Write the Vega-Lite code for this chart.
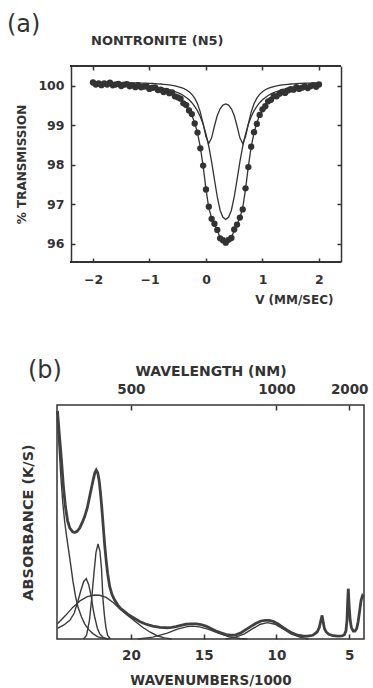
{
  "$schema": "https://vega.github.io/schema/vega-lite/v6.json",
  "background": "white",
  "padding": {"left": 6, "top": 13, "right": 0, "bottom": 0},
  "title": {"text": "(a)", "anchor": "start", "frame": "bounds", "dx": -9, "fontSize": 24, "fontWeight": "normal", "font": "DejaVu Sans", "color": "#333", "offset": -2},
  "config": {
    "view": {"stroke": "#333", "strokeWidth": 1.5},
    "axis": {"domain": false, "grid": false, "labelFont": "DejaVu Sans", "labelFontWeight": "bold", "titleFont": "DejaVu Sans", "titleFontWeight": "bold", "labelColor": "#333", "titleColor": "#333", "tickColor": "#333", "tickWidth": 1.5, "domainColor": "#333", "domainWidth": 1.5, "labelFlush": false, "labelOverlap": false}
  },
  "datasets": {
    "moss": [
      {"v": -2.00, "d": 100.082, "f": 100.052, "o": 100.088, "i": 100.063},
      {"v": -1.95, "d": 100.029, "f": 100.049, "o": 100.088, "i": 100.062},
      {"v": -1.90, "d": 100.057, "f": 100.047, "o": 100.087, "i": 100.060},
      {"v": -1.85, "d": 100.015, "f": 100.045, "o": 100.086, "i": 100.058},
      {"v": -1.80, "d": 100.062, "f": 100.042, "o": 100.086, "i": 100.056},
      {"v": -1.75, "d": 100.029, "f": 100.039, "o": 100.085, "i": 100.054},
      {"v": -1.70, "d": 100.076, "f": 100.036, "o": 100.084, "i": 100.052},
      {"v": -1.65, "d": 100.013, "f": 100.033, "o": 100.083, "i": 100.049},
      {"v": -1.60, "d": 100.029, "f": 100.029, "o": 100.083, "i": 100.047},
      {"v": -1.55, "d": 100.046, "f": 100.026, "o": 100.082, "i": 100.044},
      {"v": -1.50, "d": 99.991, "f": 100.021, "o": 100.081, "i": 100.041},
      {"v": -1.45, "d": 100.027, "f": 100.017, "o": 100.079, "i": 100.038},
      {"v": -1.40, "d": 100.042, "f": 100.012, "o": 100.078, "i": 100.034},
      {"v": -1.35, "d": 99.987, "f": 100.007, "o": 100.077, "i": 100.030},
      {"v": -1.30, "d": 100.011, "f": 100.001, "o": 100.075, "i": 100.026},
      {"v": -1.25, "d": 99.964, "f": 99.994, "o": 100.073, "i": 100.021},
      {"v": -1.20, "d": 100.017, "f": 99.987, "o": 100.071, "i": 100.016},
      {"v": -1.15, "d": 99.960, "f": 99.980, "o": 100.069, "i": 100.010},
      {"v": -1.10, "d": 99.981, "f": 99.971, "o": 100.067, "i": 100.004},
      {"v": -1.05, "d": 99.981, "f": 99.961, "o": 100.064, "i": 99.997},
      {"v": -1.00, "d": 99.921, "f": 99.951, "o": 100.061, "i": 99.990},
      {"v": -0.95, "d": 99.949, "f": 99.939, "o": 100.058, "i": 99.981},
      {"v": -0.90, "d": 99.955, "f": 99.925, "o": 100.054, "i": 99.972},
      {"v": -0.85, "d": 99.890, "f": 99.910, "o": 100.049, "i": 99.961},
      {"v": -0.80, "d": 99.902, "f": 99.892, "o": 100.044, "i": 99.949},
      {"v": -0.75, "d": 99.842, "f": 99.872, "o": 100.037, "i": 99.935},
      {"v": -0.70, "d": 99.869, "f": 99.849, "o": 100.030, "i": 99.919},
      {"v": -0.65, "d": 99.812, "f": 99.822, "o": 100.021, "i": 99.901},
      {"v": -0.60, "d": 99.830, "f": 99.790, "o": 100.010, "i": 99.880},
      {"v": -0.55, "d": 99.732, "f": 99.752, "o": 99.997, "i": 99.855},
      {"v": -0.50, "d": 99.707, "f": 99.707, "o": 99.981, "i": 99.827},
      {"v": -0.45, "d": 99.673, "f": 99.653, "o": 99.960, "i": 99.793},
      {"v": -0.40, "d": 99.555, "f": 99.585, "o": 99.933, "i": 99.752},
      {"v": -0.35, "d": 99.511, "f": 99.501, "o": 99.898, "i": 99.703},
      {"v": -0.30, "d": 99.373, "f": 99.393, "o": 99.850, "i": 99.644},
      {"v": -0.25, "d": 99.283, "f": 99.253, "o": 99.782, "i": 99.571},
      {"v": -0.20, "d": 99.045, "f": 99.065, "o": 99.686, "i": 99.479},
      {"v": -0.15, "d": 98.816, "f": 98.806, "o": 99.543, "i": 99.363},
      {"v": -0.10, "d": 98.417, "f": 98.447, "o": 99.332, "i": 99.216},
      {"v": -0.05, "d": 97.981, "f": 97.961, "o": 99.036, "i": 99.025},
      {"v": 0.00, "d": 97.375, "f": 97.385, "o": 98.707, "i": 98.778},
      {"v": 0.05, "d": 96.941, "f": 96.901, "o": 98.538, "i": 98.463},
      {"v": 0.10, "d": 96.633, "f": 96.653, "o": 98.681, "i": 98.072},
      {"v": 0.15, "d": 96.508, "f": 96.508, "o": 98.982, "i": 97.626},
      {"v": 0.20, "d": 96.352, "f": 96.332, "o": 99.246, "i": 97.187},
      {"v": 0.25, "d": 96.138, "f": 96.168, "o": 99.418, "i": 96.850},
      {"v": 0.30, "d": 96.090, "f": 96.080, "o": 99.511, "i": 96.670},
      {"v": 0.35, "d": 96.029, "f": 96.059, "o": 99.539, "i": 96.619},
      {"v": 0.40, "d": 96.100, "f": 96.080, "o": 99.511, "i": 96.670},
      {"v": 0.45, "d": 96.148, "f": 96.168, "o": 99.418, "i": 96.850},
      {"v": 0.50, "d": 96.362, "f": 96.332, "o": 99.246, "i": 97.187},
      {"v": 0.55, "d": 96.488, "f": 96.508, "o": 98.982, "i": 97.626},
      {"v": 0.60, "d": 96.663, "f": 96.653, "o": 98.681, "i": 98.072},
      {"v": 0.65, "d": 96.871, "f": 96.901, "o": 98.538, "i": 98.463},
      {"v": 0.70, "d": 97.405, "f": 97.385, "o": 98.707, "i": 98.778},
      {"v": 0.75, "d": 97.941, "f": 97.961, "o": 99.036, "i": 99.025},
      {"v": 0.80, "d": 98.457, "f": 98.447, "o": 99.332, "i": 99.216},
      {"v": 0.85, "d": 98.826, "f": 98.806, "o": 99.543, "i": 99.363},
      {"v": 0.90, "d": 99.035, "f": 99.065, "o": 99.686, "i": 99.479},
      {"v": 0.95, "d": 99.263, "f": 99.253, "o": 99.782, "i": 99.571},
      {"v": 1.00, "d": 99.403, "f": 99.393, "o": 99.850, "i": 99.644},
      {"v": 1.05, "d": 99.481, "f": 99.501, "o": 99.898, "i": 99.703},
      {"v": 1.10, "d": 99.605, "f": 99.585, "o": 99.933, "i": 99.752},
      {"v": 1.15, "d": 99.643, "f": 99.653, "o": 99.960, "i": 99.793},
      {"v": 1.20, "d": 99.737, "f": 99.707, "o": 99.981, "i": 99.827},
      {"v": 1.25, "d": 99.732, "f": 99.752, "o": 99.997, "i": 99.855},
      {"v": 1.30, "d": 99.800, "f": 99.790, "o": 100.010, "i": 99.880},
      {"v": 1.35, "d": 99.842, "f": 99.822, "o": 100.021, "i": 99.901},
      {"v": 1.40, "d": 99.819, "f": 99.849, "o": 100.030, "i": 99.919},
      {"v": 1.45, "d": 99.882, "f": 99.872, "o": 100.037, "i": 99.935},
      {"v": 1.50, "d": 99.912, "f": 99.892, "o": 100.044, "i": 99.949},
      {"v": 1.55, "d": 99.900, "f": 99.910, "o": 100.049, "i": 99.961},
      {"v": 1.60, "d": 99.965, "f": 99.925, "o": 100.054, "i": 99.972},
      {"v": 1.65, "d": 99.919, "f": 99.939, "o": 100.058, "i": 99.981},
      {"v": 1.70, "d": 99.951, "f": 99.951, "o": 100.061, "i": 99.990},
      {"v": 1.75, "d": 99.981, "f": 99.961, "o": 100.064, "i": 99.997},
      {"v": 1.80, "d": 99.941, "f": 99.971, "o": 100.067, "i": 100.004},
      {"v": 1.85, "d": 99.990, "f": 99.980, "o": 100.069, "i": 100.010},
      {"v": 1.90, "d": 100.017, "f": 99.987, "o": 100.071, "i": 100.016},
      {"v": 1.95, "d": 99.974, "f": 99.994, "o": 100.073, "i": 100.021},
      {"v": 2.00, "d": 100.031, "f": 100.001, "o": 100.075, "i": 100.026}
    ],
    "total": [
      {"wn": 25.05, "a": 0.975}, {"wn": 24.9, "a": 0.86}, {"wn": 24.78, "a": 0.77}, {"wn": 24.65, "a": 0.66},
      {"wn": 24.5, "a": 0.565}, {"wn": 24.35, "a": 0.505}, {"wn": 24.2, "a": 0.474}, {"wn": 24.0, "a": 0.458},
      {"wn": 23.86, "a": 0.455}, {"wn": 23.7, "a": 0.46}, {"wn": 23.52, "a": 0.474}, {"wn": 23.35, "a": 0.497},
      {"wn": 23.18, "a": 0.523}, {"wn": 23.0, "a": 0.56}, {"wn": 22.8, "a": 0.62}, {"wn": 22.61, "a": 0.675},
      {"wn": 22.48, "a": 0.71}, {"wn": 22.38, "a": 0.722}, {"wn": 22.28, "a": 0.71}, {"wn": 22.19, "a": 0.68},
      {"wn": 22.1, "a": 0.63}, {"wn": 22.0, "a": 0.56}, {"wn": 21.9, "a": 0.48}, {"wn": 21.8, "a": 0.4},
      {"wn": 21.7, "a": 0.335}, {"wn": 21.6, "a": 0.28}, {"wn": 21.46, "a": 0.225}, {"wn": 21.3, "a": 0.19},
      {"wn": 21.11, "a": 0.165}, {"wn": 20.9, "a": 0.145}, {"wn": 20.7, "a": 0.13}, {"wn": 20.45, "a": 0.118},
      {"wn": 20.2, "a": 0.105}, {"wn": 19.8, "a": 0.09}, {"wn": 19.4, "a": 0.075}, {"wn": 19.0, "a": 0.064},
      {"wn": 18.5, "a": 0.055}, {"wn": 18.0, "a": 0.05}, {"wn": 17.5, "a": 0.048}, {"wn": 17.2, "a": 0.05},
      {"wn": 16.9, "a": 0.053}, {"wn": 16.56, "a": 0.058}, {"wn": 16.2, "a": 0.063}, {"wn": 15.87, "a": 0.065},
      {"wn": 15.5, "a": 0.065}, {"wn": 15.18, "a": 0.062}, {"wn": 14.8, "a": 0.054}, {"wn": 14.5, "a": 0.045},
      {"wn": 14.15, "a": 0.034}, {"wn": 13.81, "a": 0.026}, {"wn": 13.45, "a": 0.019}, {"wn": 13.12, "a": 0.016},
      {"wn": 12.8, "a": 0.018}, {"wn": 12.43, "a": 0.027}, {"wn": 12.1, "a": 0.04}, {"wn": 11.75, "a": 0.054},
      {"wn": 11.4, "a": 0.067}, {"wn": 11.06, "a": 0.077}, {"wn": 10.75, "a": 0.08}, {"wn": 10.49, "a": 0.08},
      {"wn": 10.2, "a": 0.075}, {"wn": 9.91, "a": 0.065}, {"wn": 9.55, "a": 0.05}, {"wn": 9.23, "a": 0.037},
      {"wn": 8.9, "a": 0.025}, {"wn": 8.54, "a": 0.016}, {"wn": 8.2, "a": 0.013}, {"wn": 7.85, "a": 0.012},
      {"wn": 7.5, "a": 0.016}, {"wn": 7.2, "a": 0.03}, {"wn": 7.05, "a": 0.05}, {"wn": 6.95, "a": 0.078},
      {"wn": 6.86, "a": 0.101}, {"wn": 6.78, "a": 0.07}, {"wn": 6.7, "a": 0.045}, {"wn": 6.58, "a": 0.03},
      {"wn": 6.4, "a": 0.02}, {"wn": 6.1, "a": 0.014}, {"wn": 5.79, "a": 0.012}, {"wn": 5.5, "a": 0.013},
      {"wn": 5.33, "a": 0.018}, {"wn": 5.22, "a": 0.035}, {"wn": 5.15, "a": 0.08}, {"wn": 5.1, "a": 0.16},
      {"wn": 5.06, "a": 0.215}, {"wn": 5.0, "a": 0.14}, {"wn": 4.93, "a": 0.08}, {"wn": 4.85, "a": 0.05},
      {"wn": 4.72, "a": 0.034}, {"wn": 4.6, "a": 0.034}, {"wn": 4.48, "a": 0.045}, {"wn": 4.38, "a": 0.075},
      {"wn": 4.28, "a": 0.12}, {"wn": 4.18, "a": 0.165}, {"wn": 4.08, "a": 0.185}, {"wn": 4.0, "a": 0.18}
    ],
    "parts": [
      {"s": "uv", "wn": 25.05, "a": 0.94}, {"s": "uv", "wn": 24.92, "a": 0.8}, {"s": "uv", "wn": 24.8, "a": 0.68},
      {"s": "uv", "wn": 24.68, "a": 0.58}, {"s": "uv", "wn": 24.55, "a": 0.5}, {"s": "uv", "wn": 24.4, "a": 0.43},
      {"s": "uv", "wn": 24.26, "a": 0.37}, {"s": "uv", "wn": 24.1, "a": 0.3}, {"s": "uv", "wn": 23.98, "a": 0.245},
      {"s": "uv", "wn": 23.8, "a": 0.18}, {"s": "uv", "wn": 23.64, "a": 0.137}, {"s": "uv", "wn": 23.4, "a": 0.095},
      {"s": "uv", "wn": 23.18, "a": 0.065}, {"s": "uv", "wn": 22.9, "a": 0.04}, {"s": "uv", "wn": 22.61, "a": 0.023},
      {"s": "uv", "wn": 22.3, "a": 0.01}, {"s": "uv", "wn": 21.92, "a": 0.003}, {"s": "uv", "wn": 21.5, "a": 0},
      {"s": "g1", "wn": 25.05, "a": 0.045}, {"s": "g1", "wn": 24.6, "a": 0.06}, {"s": "g1", "wn": 24.2, "a": 0.08},
      {"s": "g1", "wn": 23.9, "a": 0.11}, {"s": "g1", "wn": 23.65, "a": 0.16}, {"s": "g1", "wn": 23.45, "a": 0.205},
      {"s": "g1", "wn": 23.25, "a": 0.245}, {"s": "g1", "wn": 23.07, "a": 0.258}, {"s": "g1", "wn": 22.9, "a": 0.232},
      {"s": "g1", "wn": 22.72, "a": 0.18}, {"s": "g1", "wn": 22.6, "a": 0.13}, {"s": "g1", "wn": 22.49, "a": 0.094},
      {"s": "g1", "wn": 22.3, "a": 0.045}, {"s": "g1", "wn": 22.15, "a": 0.023}, {"s": "g1", "wn": 21.9, "a": 0.006},
      {"s": "g1", "wn": 21.6, "a": 0},
      {"s": "g2", "wn": 23.25, "a": 0}, {"s": "g2", "wn": 23.05, "a": 0.016}, {"s": "g2", "wn": 22.85, "a": 0.08},
      {"s": "g2", "wn": 22.7, "a": 0.17}, {"s": "g2", "wn": 22.55, "a": 0.275}, {"s": "g2", "wn": 22.4, "a": 0.37},
      {"s": "g2", "wn": 22.26, "a": 0.406}, {"s": "g2", "wn": 22.13, "a": 0.375}, {"s": "g2", "wn": 22.02, "a": 0.3},
      {"s": "g2", "wn": 21.92, "a": 0.17}, {"s": "g2", "wn": 21.82, "a": 0.1}, {"s": "g2", "wn": 21.72, "a": 0.05},
      {"s": "g2", "wn": 21.6, "a": 0.015}, {"s": "g2", "wn": 21.4, "a": 0},
      {"s": "broad", "wn": 25.05, "a": 0.065}, {"s": "broad", "wn": 24.5, "a": 0.1}, {"s": "broad", "wn": 24.0, "a": 0.135},
      {"s": "broad", "wn": 23.5, "a": 0.163}, {"s": "broad", "wn": 23.0, "a": 0.181}, {"s": "broad", "wn": 22.5, "a": 0.188},
      {"s": "broad", "wn": 22.15, "a": 0.187}, {"s": "broad", "wn": 21.7, "a": 0.178}, {"s": "broad", "wn": 21.2, "a": 0.155},
      {"s": "broad", "wn": 20.7, "a": 0.125}, {"s": "broad", "wn": 20.2, "a": 0.1}, {"s": "broad", "wn": 19.7, "a": 0.075},
      {"s": "broad", "wn": 19.2, "a": 0.05}, {"s": "broad", "wn": 18.7, "a": 0.03}, {"s": "broad", "wn": 18.2, "a": 0.014},
      {"s": "broad", "wn": 17.7, "a": 0.005}, {"s": "broad", "wn": 17.2, "a": 0},
      {"s": "b15", "wn": 19.5, "a": 0}, {"s": "b15", "wn": 18.5, "a": 0.008}, {"s": "b15", "wn": 17.5, "a": 0.025},
      {"s": "b15", "wn": 16.8, "a": 0.042}, {"s": "b15", "wn": 16.2, "a": 0.052}, {"s": "b15", "wn": 15.8, "a": 0.055},
      {"s": "b15", "wn": 15.3, "a": 0.052}, {"s": "b15", "wn": 14.7, "a": 0.042}, {"s": "b15", "wn": 14.0, "a": 0.025},
      {"s": "b15", "wn": 13.3, "a": 0.01}, {"s": "b15", "wn": 12.5, "a": 0.002}, {"s": "b15", "wn": 12.0, "a": 0},
      {"s": "b10", "wn": 13.5, "a": 0}, {"s": "b10", "wn": 12.8, "a": 0.008}, {"s": "b10", "wn": 12.2, "a": 0.022},
      {"s": "b10", "wn": 11.6, "a": 0.045}, {"s": "b10", "wn": 11.1, "a": 0.063}, {"s": "b10", "wn": 10.6, "a": 0.07},
      {"s": "b10", "wn": 10.1, "a": 0.063}, {"s": "b10", "wn": 9.6, "a": 0.045}, {"s": "b10", "wn": 9.0, "a": 0.022},
      {"s": "b10", "wn": 8.4, "a": 0.008}, {"s": "b10", "wn": 7.8, "a": 0}
    ]
  },
  "columns": 1,
  "bounds": "full",
  "spacing": 52,
  "concat": [
    {
      "width": 284,
      "height": 196,
      "view": {"stroke": null},
      "title": {"text": "NONTRONITE  (N5)", "anchor": "start", "frame": "group", "dx": 34, "fontSize": 13, "font": "DejaVu Sans", "fontWeight": "bold", "color": "#333", "offset": 17},
      "data": {"name": "moss"},
      "layer": [
        {
          "mark": {"type": "point", "filled": true, "size": 40, "color": "#333", "opacity": 1},
          "encoding": {
            "x": {"field": "v", "type": "quantitative", "scale": {"domain": [-2.637, 2.39], "nice": false, "zero": false},
                  "axis": {"orient": "bottom", "values": [-2, -1, 0, 1, 2], "format": "d", "title": "V (MM/SEC)", "labelFontSize": 12.5, "titleFontSize": 12, "tickSize": -4, "labelPadding": 15, "titlePadding": 9, "titleX": 276, "titleAlign": "right"}},
            "y": {"field": "d", "type": "quantitative", "scale": {"domain": [95.54, 100.5], "nice": false, "zero": false},
                  "axis": {"orient": "left", "offset": -14, "domain": true, "values": [96, 97, 98, 99, 100], "format": "d", "title": "% TRANSMISSION", "labelFontSize": 12.5, "titleFontSize": 12, "tickSize": -4, "labelPadding": 11, "titlePadding": 9}}
          }
        },
        {
          "mark": {"type": "line", "color": "#333", "strokeWidth": 1.3},
          "encoding": {
            "x": {"field": "v", "type": "quantitative", "scale": {"domain": [-2.637, 2.39], "nice": false, "zero": false},
                  "axis": {"orient": "top", "values": [-2, -1, 0, 1, 2], "labels": false, "title": null, "tickSize": -4}},
            "y": {"field": "f", "type": "quantitative", "scale": {"domain": [95.54, 100.5], "nice": false, "zero": false},
                  "axis": {"orient": "right", "domain": true, "values": [96, 97, 98, 99, 100], "labels": false, "title": null, "tickSize": -4}}
          }
        },
        {
          "mark": {"type": "line", "color": "#333", "strokeWidth": 1.3},
          "encoding": {
            "x": {"field": "v", "type": "quantitative", "axis": null},
            "y": {"field": "o", "type": "quantitative", "axis": null}
          }
        },
        {
          "mark": {"type": "line", "color": "#333", "strokeWidth": 1.3},
          "encoding": {
            "x": {"field": "v", "type": "quantitative", "axis": null},
            "y": {"field": "i", "type": "quantitative", "axis": null}
          }
        },
        {
          "mark": {"type": "rule", "color": "#333", "strokeWidth": 1.5},
          "encoding": {
            "x": {"datum": -2.39, "type": "quantitative", "axis": null},
            "x2": {"datum": 2.39},
            "y": {"datum": 100.5, "type": "quantitative", "axis": null}
          }
        },
        {
          "mark": {"type": "rule", "color": "#333", "strokeWidth": 1.5},
          "encoding": {
            "x": {"datum": -2.39, "type": "quantitative", "axis": null},
            "x2": {"datum": 2.39},
            "y": {"datum": 95.54, "type": "quantitative", "axis": null}
          }
        }
      ],
      "resolve": {"axis": {"x": "independent", "y": "independent"}}
    },
    {
      "width": 307,
      "height": 234,
      "title": {"text": "(b)", "anchor": "start", "frame": "group", "dx": -29, "fontSize": 24, "fontWeight": "normal", "font": "DejaVu Sans", "color": "#333", "offset": -19},
      "layer": [
        {
          "data": {"name": "parts"},
          "mark": {"type": "line", "color": "#3a3a3a", "strokeWidth": 1.4},
          "encoding": {
            "x": {"field": "wn", "type": "quantitative", "scale": {"domain": [3.98, 25.08], "reverse": true, "nice": false, "zero": false},
                  "axis": {"orient": "bottom", "values": [20, 15, 10, 5], "format": "d", "title": "WAVENUMBERS/1000", "labelFontSize": 13.5, "titleFontSize": 13.5, "tickSize": -5, "labelPadding": 14, "titlePadding": 12}},
            "y": {"field": "a", "type": "quantitative", "scale": {"domain": [0, 1], "nice": false},
                  "axis": {"orient": "left", "labels": false, "ticks": false, "title": "ABSORBANCE  (K/S)", "titleFontSize": 14.5, "titlePadding": 22}},
            "detail": {"field": "s", "type": "nominal"}
          }
        },
        {
          "data": {"name": "total"},
          "mark": {"type": "line", "color": "#404040", "strokeWidth": 2.8},
          "encoding": {
            "x": {"field": "wn", "type": "quantitative", "scale": {"domain": [3.98, 25.08], "reverse": true, "nice": false, "zero": false},
                  "axis": {"orient": "top", "values": [20, 10, 5], "labelExpr": "datum.value == 20 ? '500' : (datum.value == 10 ? '1000' : '2000')", "title": "WAVELENGTH  (NM)", "labelFontSize": 13.5, "titleFontSize": 14, "tickSize": -5, "labelPadding": 14, "titlePadding": 4}},
            "y": {"field": "a", "type": "quantitative", "scale": {"domain": [0, 1], "nice": false}, "axis": null}
          }
        },
        {
          "mark": {"type": "text", "text": "NONTRONITE  (N5)", "align": "left", "baseline": "alphabetic", "fontSize": 14, "font": "DejaVu Sans", "fontWeight": "bold", "color": "#333"},
          "encoding": {
            "x": {"datum": 20.2, "type": "quantitative", "axis": null},
            "y": {"datum": 0.856, "type": "quantitative", "axis": null}
          }
        },
        {
          "mark": {"type": "text", "text": "COLFAX, WA", "align": "left", "baseline": "alphabetic", "fontSize": 14, "font": "DejaVu Sans", "fontWeight": "bold", "color": "#333"},
          "encoding": {
            "x": {"datum": 20.2, "type": "quantitative", "axis": null},
            "y": {"datum": 0.764, "type": "quantitative", "axis": null}
          }
        }
      ],
      "resolve": {"axis": {"x": "independent", "y": "independent"}}
    }
  ]
}
